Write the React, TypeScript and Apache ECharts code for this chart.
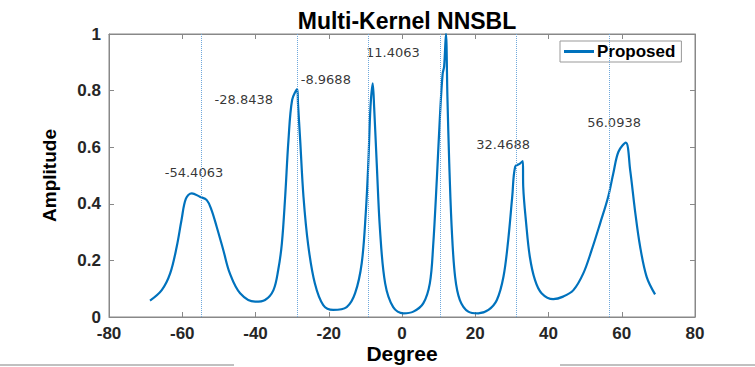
import React, { useEffect, useRef } from "react";
import * as echarts from "echarts";

const degrees = [-68.8, -65.6, -63.3, -61.5, -60.2, -59.0, -57.4, -55.2, -53.3, -52.0, -50.6, -48.8, -47.0, -44.2, -40.1, -37.4, -35.1, -33.8, -32.8, -31.9, -31.0, -30.0, -28.6, -28.4, -27.8, -26.9, -25.6, -23.8, -21.5, -18.8, -15.1, -12.8, -11.0, -9.9, -9.2, -8.6, -8.0, -7.6, -6.9, -6.0, -4.6, -2.4, 0.4, 3.1, 5.8, 7.6, 8.5, 9.5, 10.4, 11.1, 11.5, 12.0, 12.4, 12.9, 13.6, 14.5, 15.8, 18.1, 20.8, 23.6, 25.9, 27.7, 29.0, 30.1, 30.9, 32.2, 33.0, 33.1, 33.9, 34.9, 36.3, 38.1, 41.3, 44.0, 46.8, 49.5, 51.8, 54.1, 56.3, 57.7, 59.1, 61.1, 62.3, 63.6, 65.0, 66.8, 69.1];
const amplitude = [0.058, 0.095, 0.154, 0.249, 0.343, 0.418, 0.437, 0.425, 0.413, 0.378, 0.319, 0.237, 0.154, 0.084, 0.054, 0.060, 0.095, 0.166, 0.260, 0.425, 0.625, 0.767, 0.805, 0.755, 0.625, 0.425, 0.253, 0.119, 0.042, 0.025, 0.035, 0.084, 0.190, 0.366, 0.543, 0.743, 0.826, 0.740, 0.543, 0.307, 0.119, 0.035, 0.013, 0.019, 0.048, 0.119, 0.250, 0.484, 0.720, 0.860, 0.885, 1.000, 0.778, 0.543, 0.307, 0.142, 0.060, 0.019, 0.013, 0.025, 0.060, 0.142, 0.272, 0.425, 0.531, 0.542, 0.551, 0.460, 0.331, 0.213, 0.131, 0.084, 0.063, 0.072, 0.095, 0.154, 0.237, 0.331, 0.425, 0.508, 0.584, 0.616, 0.519, 0.378, 0.250, 0.142, 0.080];

// dotted reference lines (true directions)
const trueDoa = [-54.9, -28.5, -9.1, 10.5, 31.3, 56.6];

// peak annotations: text and where it sits
const peakLabels = ["-54.4063", "-28.8438", "-8.9688", "11.4063", "32.4688", "56.0938"];
const peakLabelX = [-56.8, -43.2, -20.8, -2.5, 27.6, 57.9];
const peakLabelY = [0.509, 0.769, 0.84, 0.936, 0.61, 0.687];

const FONT = "Liberation Sans, Arial, sans-serif";
const FRAME = "#888";

export default function App() {
  const ref = useRef<HTMLDivElement>(null);
  useEffect(() => {
    if (!ref.current) return;
    const chart = echarts.init(ref.current, null, { renderer: "svg" });
    const lineData = degrees.map((d, i) => [d, amplitude[i]]);
    const labelData = peakLabels.map((t, i) => ({ value: [peakLabelX[i], peakLabelY[i]], name: t }));
    const dotted = { color: "#6fa8dc", type: "dotted" as const, width: 1 };
    const frameAxis = {
      axisLine: { show: true, onZero: false, lineStyle: { color: FRAME } },
      axisTick: { show: true, inside: true, length: 5, lineStyle: { color: FRAME } },
      splitLine: { show: false },
    };
    chart.setOption({
      animation: false,
      backgroundColor: "#ffffff",
      title: {
        text: "Multi-Kernel NNSBL",
        left: 402,
        textAlign: "center",
        top: 4,
        textStyle: { fontFamily: FONT, fontSize: 23, fontWeight: "bold", color: "#000" },
      },
      legend: {
        data: ["Proposed"],
        left: 560,
        top: 41,
        itemWidth: 30,
        itemHeight: 3,
        icon: "rect",
        itemGap: 4,
        padding: [2, 6, 2, 4],
        borderColor: "#999",
        borderWidth: 1,
        backgroundColor: "#fff",
        textStyle: { fontFamily: FONT, fontSize: 17, fontWeight: "bold", color: "#000", padding: [0, 0, 0, -2] },
      },
      grid: {
        left: 109,
        right: 60,
        top: 34,
        bottom: 50,
        outerBoundsMode: "none",
        containLabel: false,
        show: true,
        borderColor: FRAME,
        borderWidth: 1,
        backgroundColor: "transparent",
      },
      xAxis: [
        {
          type: "value",
          min: -80,
          max: 80,
          interval: 20,
          name: "Degree",
          nameLocation: "middle",
          nameGap: 26,
          nameMoveOverlap: false,
          nameTextStyle: { fontFamily: FONT, fontSize: 21, fontWeight: "bold", color: "#000", verticalAlign: "top" },
          ...frameAxis,
          axisLabel: { fontFamily: FONT, fontSize: 17, fontWeight: "bold", color: "#262626", margin: 8 },
        },
        {
          type: "value",
          position: "top",
          min: -80,
          max: 80,
          interval: 20,
          ...frameAxis,
          axisLabel: { show: false },
        },
      ],
      yAxis: [
        {
          type: "value",
          min: 0,
          max: 1,
          interval: 0.2,
          name: "Amplitude",
          nameLocation: "middle",
          nameGap: 50,
          nameMoveOverlap: false,
          nameTextStyle: { fontFamily: FONT, fontSize: 19, fontWeight: "bold", color: "#000" },
          ...frameAxis,
          axisLabel: { fontFamily: FONT, fontSize: 17, fontWeight: "bold", color: "#262626", margin: 8 },
        },
        {
          type: "value",
          position: "right",
          min: 0,
          max: 1,
          interval: 0.2,
          ...frameAxis,
          axisLabel: { show: false },
        },
      ],
      series: [
        {
          name: "Proposed",
          type: "line",
          data: lineData,
          smooth: 0.35,
          showSymbol: false,
          symbol: "none",
          lineStyle: { color: "#0072BD", width: 2.2 },
          itemStyle: { color: "#0072BD" },
          markLine: {
            silent: true,
            symbol: "none",
            label: { show: false },
            lineStyle: dotted,
            emphasis: { disabled: true },
            data: trueDoa.map((v) => ({ xAxis: v, lineStyle: dotted })),
          },
          z: 3,
        },
        {
          name: "labels",
          type: "scatter",
          data: labelData,
          symbolSize: 0,
          silent: true,
          label: {
            show: true,
            position: "inside",
            formatter: (p: any) => p.name,
            fontFamily: "DejaVu Sans, sans-serif",
            fontSize: 13,
            color: "#000",
          },
          z: 4,
        },
      ],
      graphic: [
        { type: "line", shape: { x1: 0, y1: 365, x2: 234, y2: 365 }, style: { stroke: "#c0c0c0", lineWidth: 2 } },
        { type: "line", shape: { x1: 560, y1: 365, x2: 755, y2: 365 }, style: { stroke: "#c0c0c0", lineWidth: 2 } },
      ],
    });
    return () => chart.dispose();
  }, []);
  return <div ref={ref} style={{ position: "absolute", left: 0, top: 0, width: 755, height: 367 }} />;
}
